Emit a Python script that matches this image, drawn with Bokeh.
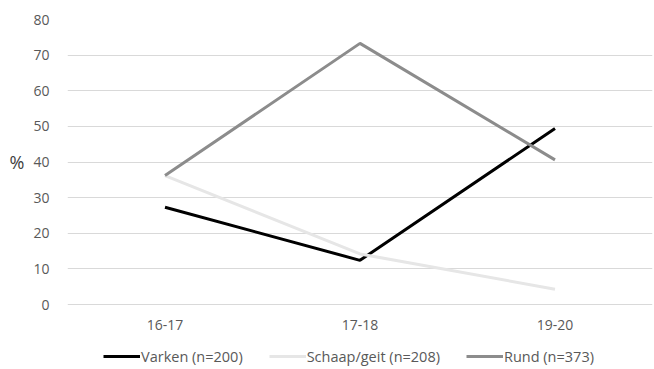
from bokeh.plotting import figure
from bokeh.models import FactorRange, Range1d, FixedTicker, Legend, LegendItem
from bokeh.embed import file_html
from bokeh.resources import INLINE

categories = ["16-17", "17-18", "19-20"]
varken = [27.3, 12.4, 49.4]
schaap = [36.2, 14.2, 4.3]
rund = [36.2, 73.3, 40.6]
y_ticks = [0, 10, 20, 30, 40, 50, 60, 70, 80]
labels = ["Varken (n=200)", "Schaap/geit (n=208)", "Rund (n=373)"]

FONT = "Open Sans"
TXT = "#595959"

# frame spans down to the canvas bottom so the legend below the axis is not clipped
y_bottom = -65 * 80 / 285.0

p = figure(width=654, height=369, x_range=FactorRange(*categories, range_padding=0),
           y_range=Range1d(y_bottom, 80), output_backend="svg", toolbar_location=None,
           min_border_left=67, min_border_right=2, min_border_top=19, min_border_bottom=0)
p.outline_line_color = None
p.background_fill_color = "white"
p.border_fill_color = "white"

p.xgrid.grid_line_color = None
p.ygrid.grid_line_color = "#d9d9d9"
p.ygrid.grid_line_width = 1
p.yaxis.ticker = FixedTicker(ticks=y_ticks)
p.yaxis.bounds = (0, 80)
p.xaxis.fixed_location = 0

for ax in (p.xaxis[0], p.yaxis[0]):
    ax.axis_line_color = None
    ax.major_tick_line_color = None
    ax.minor_tick_line_color = None
    ax.major_label_text_font = FONT
    ax.major_label_text_font_size = "14px"
    ax.major_label_text_color = TXT
p.yaxis.major_label_standoff = 12
p.xaxis.major_label_standoff = 9

# "%" sits level with the 40 tick; extra blank lines lift it above the frame centre
p.yaxis.axis_label = "%\n \n \n "
p.yaxis.axis_label_orientation = "horizontal"
p.yaxis.axis_label_standoff = 6
p.yaxis.axis_label_text_font = FONT
p.yaxis.axis_label_text_font_size = "18px"
p.yaxis.axis_label_text_line_height = 0.9
p.yaxis.axis_label_text_font_style = "normal"
p.yaxis.axis_label_text_color = "#404040"

r1 = p.line(categories, varken, line_color="#000000", line_width=3)
r2 = p.line(categories, schaap, line_color="#e6e6e6", line_width=3)
r3 = p.line(categories, rund, line_color="#8c8c8c", line_width=3)

legend = Legend(items=[LegendItem(label=labels[0], renderers=[r1]),
                       LegendItem(label=labels[1], renderers=[r2]),
                       LegendItem(label=labels[2], renderers=[r3])],
                orientation="horizontal", location=(36, 3),
                glyph_width=37, label_standoff=1, spacing=26, padding=0, margin=0,
                label_text_font=FONT, label_text_font_size="14.5px", label_text_color=TXT,
                border_line_color=None, background_fill_alpha=0)
p.add_layout(legend)

open("out.html", "w").write(file_html(p, INLINE))
